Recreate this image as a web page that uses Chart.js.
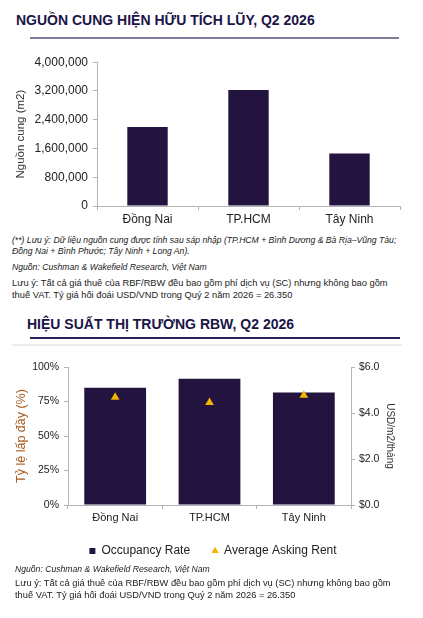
<!DOCTYPE html>
<html lang="vi">
<head>
<meta charset="utf-8">
<title>Nguồn cung & hiệu suất RBW</title>
<script src="https://cdn.jsdelivr.net/npm/chart.js@4.4.1/dist/chart.umd.min.js"></script>
<style>
  html, body { margin: 0; padding: 0; background: #fff; }
  body { position: relative; width: 423px; height: 618px; overflow: hidden; font-family: "Liberation Sans", Arial, sans-serif; color: #222; }
  .abs { position: absolute; white-space: nowrap; }
  .title { font-weight: bold; font-size: 14px; color: #1b1547; }
  .rule { position: absolute; height: 2px; }
  .note-i { font-style: italic; font-size: 8.65px; color: #222; line-height: 11px; }
  .note { font-size: 9.3px; color: #222; line-height: 12px; }
  .box { position: absolute; }
</style>
</head>
<body>
<div class="abs title" style="left:16px; top:12px;">NGUỒN CUNG HIỆN HỮU TÍCH LŨY, Q2 2026</div>
<div class="rule" style="left:30px; top:37px; width:369px; background:#817b98;"></div>

<div class="box" style="left:0; top:50px; width:423px; height:180px;"><canvas id="chartCung"></canvas></div>

<div class="abs note-i" style="left:12px; top:235px;">(**) Lưu ý: Dữ liệu nguồn cung được tính sau sáp nhập (TP.HCM + Bình Dương &amp; Bà Rịa–Vũng Tàu;<br>Đồng Nai + Bình Phước; Tây Ninh + Long An).</div>
<div class="abs note-i" style="left:12px; top:262px;">Nguồn: Cushman &amp; Wakefield Research, Việt Nam</div>
<div class="abs note" style="left:12px; top:277px;">Lưu ý: Tất cả giá thuê của RBF/RBW đều bao gồm phí dịch vụ (SC) nhưng không bao gồm<br>thuế VAT. Tỷ giá hối đoái USD/VND trong Quý 2 năm 2026 = 26.350</div>

<div class="abs title" style="left:27px; top:316px;">HIỆU SUẤT THỊ TRƯỜNG RBW, Q2 2026</div>
<div class="rule" style="left:30px; top:337px; width:370px; background:#2a2153;"></div>
<div class="rule" style="left:12px; top:344px; width:390px; background:#ececec;"></div>

<div class="box" style="left:0; top:345px; width:423px; height:230px;"><canvas id="chartRBW"></canvas></div>

<div class="abs note-i" style="left:15px; top:564px;">Nguồn: Cushman &amp; Wakefield Research, Việt Nam</div>
<div class="abs note" style="left:15px; top:577px;">Lưu ý: Tất cả giá thuê của RBF/RBW đều bao gồm phí dịch vụ (SC) nhưng không bao gồm<br>thuế VAT. Tỷ giá hối đoái USD/VND trong Quý 2 năm 2026 = 26.350</div>

<script>
// Dữ liệu
const khuVuc = ['Đồng Nai', 'TP.HCM', 'Tây Ninh'];
const nguonCung = [2200000, 3230000, 1460000];          // m2
const tyLeLapDay = [0.85, 0.914, 0.816];                 // %
const giaThue = [4.68, 4.46, 4.77];                      // USD/m2/tháng

const TIM = '#22133f';
const VANG = '#f5b400';
const XAM = '#b4b4b4';

Chart.defaults.font.family = '"Liberation Sans", Arial, sans-serif';
Chart.defaults.color = '#222';
Chart.defaults.animation = false;

function gridTicks() {
    return { display: true, drawOnChartArea: false, drawTicks: true, tickLength: 4, color: XAM };
}

// padding của legend vừa là khoảng cách giữa các mục vừa là lề trên -> dời legend lại
const doiLegend = {
    id: 'doiLegend',
    afterLayout(chart) {
        const lg = chart.legend;
        if (!lg) return;
        lg.top -= 8;
        lg.bottom -= 8;
        lg.left += 8;
        lg.right += 8;
    }
};

// Biểu đồ 1: nguồn cung
new Chart(document.getElementById('chartCung'), {
    type: 'bar',
    data: {
        labels: khuVuc,
        datasets: [{
            label: 'Nguồn cung',
            data: nguonCung,
            backgroundColor: TIM,
            borderWidth: 0,
            categoryPercentage: 1,
            barPercentage: 0.4
        }]
    },
    options: {
        responsive: true,
        maintainAspectRatio: false,
        layout: { padding: { top: 12, right: 23, left: 14, bottom: 0 } },
        plugins: { legend: { display: false }, tooltip: { enabled: false } },
        scales: {
            x: {
                grid: Object.assign(gridTicks(), { offset: true }),
                border: { color: XAM },
                ticks: { font: { size: 12 }, padding: 2 },
                afterFit: s => { s.height = 24; }
            },
            y: {
                min: 0, max: 4000000,
                grid: gridTicks(),
                border: { color: XAM },
                ticks: {
                    stepSize: 800000, font: { size: 12 }, padding: 5,
                    callback: v => Number(v).toLocaleString('en-US')
                },
                title: { display: true, text: 'Nguồn cung (m2)', font: { size: 11.5 }, color: '#333', padding: 0 },
                afterFit: s => { s.width = 83; }
            }
        }
    }
});

// Biểu đồ 2: hiệu suất thị trường
new Chart(document.getElementById('chartRBW'), {
    data: {
        labels: khuVuc,
        datasets: [
            {
                type: 'bar',
                label: 'Occupancy Rate',
                data: tyLeLapDay,
                backgroundColor: TIM,
                borderWidth: 0,
                categoryPercentage: 1,
                barPercentage: 0.655,
                pointStyle: 'rect',
                yAxisID: 'y',
                order: 2
            },
            {
                type: 'line',
                label: 'Average Asking Rent',
                data: giaThue,
                showLine: false,
                pointStyle: 'triangle',
                pointRadius: 5,
                backgroundColor: VANG,
                borderColor: VANG,
                pointBorderWidth: 0,
                yAxisID: 'y2',
                order: 1
            }
        ]
    },
    plugins: [doiLegend],
    options: {
        responsive: true,
        maintainAspectRatio: false,
        layout: { padding: { top: 22, right: 27, left: 14, bottom: 0 } },
        plugins: {
            tooltip: { enabled: false },
            legend: {
                position: 'bottom',
                labels: {
                    usePointStyle: true, boxWidth: 6, boxHeight: 6, padding: 22,
                    font: { size: 12 }, color: '#222',
                    sort: (a, b) => a.datasetIndex - b.datasetIndex
                }
            }
        },
        scales: {
            x: {
                grid: Object.assign(gridTicks(), { offset: true }),
                border: { color: XAM },
                ticks: { font: { size: 11 }, padding: 2 },
                afterFit: s => { s.height = 26; }
            },
            y: {
                position: 'left',
                min: 0, max: 1,
                grid: gridTicks(),
                border: { color: XAM },
                ticks: { stepSize: 0.25, font: { size: 10.5 }, padding: 5, callback: v => Math.round(v * 100) + '%' },
                title: { display: true, text: 'Tỷ lệ lấp đầy (%)', font: { size: 12.5 }, color: '#a65a1f', padding: 0 },
                afterFit: s => { s.width = 54; }
            },
            y2: {
                position: 'right',
                min: 0, max: 6,
                grid: gridTicks(),
                border: { color: XAM },
                ticks: { stepSize: 2, font: { size: 10.5 }, padding: 4, callback: v => '$' + Number(v).toFixed(1) },
                title: { display: true, text: 'USD/m2/tháng', font: { size: 10 }, color: '#333', padding: 0 },
                afterFit: s => { s.width = 45; }
            }
        }
    }
});
</script>
</body>
</html>
